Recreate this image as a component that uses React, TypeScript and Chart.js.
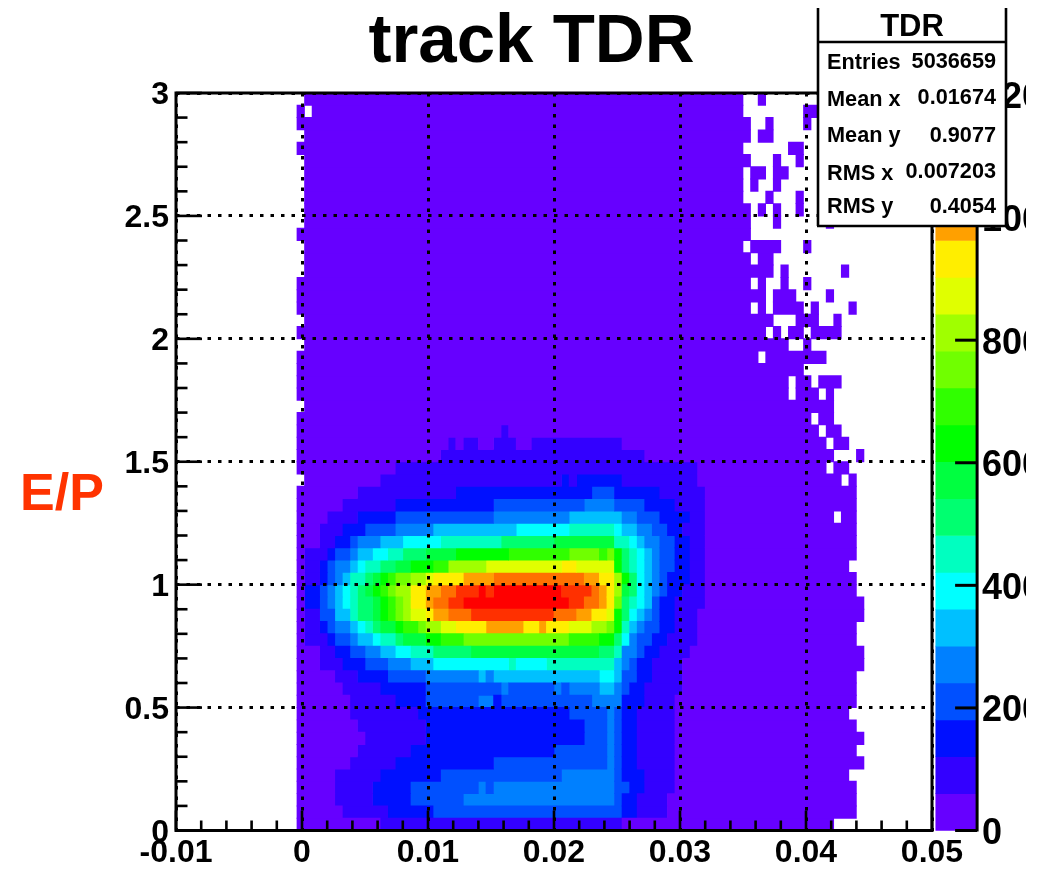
import React, { useEffect, useRef } from "react";
import { Chart, registerables } from "chart.js";

Chart.register(...registerables);

// Each row is one E/P bin (bottom to top): "<first x bin><contour letter>", "." = empty.
const rowsLow: string[] = [
  "16a27b59a87.",
  "16a22b28c34d59c61b65a90.",
  "16a21b26c31d38e58d59c61b65a90.",
  "16a21b26c31d40e41d42e58d60c62b66a90.",
  "16a21b27c35d51e58d59c62b66a89.",
  "16a23b29c42d57e58d59c61b66a91.",
  "16a24b31c50d57e58d59c61b66a90.",
  "16a25b33c54d57e58d59c61b66a91.",
  "16a24b33c54d57e58d59c61b66a90.",
  "16a23b32c52d57e58d59c61b66a89.",
  "16a23b29c33d40e42c43d55e59c62b66a90.",
  "16a22b27c33d43e44d50e51d52e56f58e59d60c62b67a90.",
  "16a21b24c28d33e40f41e42f56g58f59d61c63b67a90.",
  "16a19b22c25d28e31f34g44h45g49h58f59e60d61c63b67a91.",
  "16a19b21c23d25e27f29g31h34i39j56i58h59e61d62c64b68a91.",
  "16a17b20c21d23e24f26g27h29i30j33k35l38m52l56k58i59g60e61d63c65b69a90.",
  "16a17b19c20d21e23f24g25h26i27j29k30l32m33n35o37p41q46p48q49p52o55n57m58k59h60f61e62d64c66b69a90.",
  "16a17b19d21f23h24i26j27k28l29m30n31o33p34q36r39s50r53q55p57o58k59i60g61f62e63d64c66b69a91.",
  "16a17c19d20e21f22g23h24i26j27k28l29m30n31p33q34r36s38t52s54r56q57p58m59i60h61g62f63d64c66b70a91.",
  "16a17c19d20e21f22g23h24i25j26k27l28m29n31p33q35r37s40t41s42t51s55r56q57p58n59j60i61g62f63e64d65c67b70a90.",
];
const rowsMid: string[] = [
  "16a17b19c20d21e22f23h25i26j27k28l29m31n33o34p38q42r54q56p58n59k60i61g62f63e64d65c68b70a90.",
  "16a17b19c20d21e23f24g25h27i29j31k34l36n41o51p53o58k59i60h61g62f63e64d66c68b70a89.",
  "16a17b20c21d23e24f26g28h30i33j37k44l52m56l57m58k59i60h61g62f63e64d66c68b70a90.",
  "16a19b21c23d24e27f30g35h43i50j58h60g61f62e64d66c68b70a90.",
  "16a19b22c25d29e34f45g52h58g59f61e63d65c67b70a90.",
  "16a20b24c29d42e52f59e61d64c68b70a87.88a90.",
  "16a22b29c42d54e58d62c66b70a90.",
  "16a24b37c55d58c64b70a90.",
  "17a27b51c52b53c59b69a88.89a90.",
  "16a29b69a86.87a89.",
  "16a35b62a87.90a91.",
  "16a36b37a38b40a42b45a47b59a86.87a89.",
  "16a43b44a85.86a88.",
  "16a84.85a87.",
  "17a87.",
  "16a81.82a85.86a87.",
  "16a81.82a84.85a88.",
  "16a83.",
  "16a77.78a86.",
  "17a81.83a84.",
];
const rowsHigh: string[] = [
  "16a78.79a80.81a83.84a88.",
  "17a79.82a85.87a88.",
  "16a76.77a78.79a83.84a85.89a90.",
  "16a78.79a82.86a87.",
  "16a76.77a78.80a81.83a84.",
  "17a79.80a81.88a89.",
  "17a76.77a79.",
  "17a75.76a80.83a84.",
  "16a76.",
  "17a76.79a80.86a87.",
  "17a76.77a78.79a80.82a83.",
  "17a75.78a79.82a83.",
  "17a75.76a77.79a80.",
  "17a75.76a78.79a81.",
  "17a76.79a80.82a83.",
  "16a75.81a83.",
  "17a76.77a79.",
  "16a76.78a79.83a84.",
  "16a17.18a75.83a85.",
  "17a75.77a78.",
];

const contourColors: string[] = [
  "#6600ff", "#3300ff", "#0010ff", "#0050ff", "#0080ff",
  "#00c0ff", "#00ffff", "#00ffc0", "#00ff70", "#00ff40",
  "#00ff00", "#30ff00", "#70ff00", "#a0ff00", "#e0ff00",
  "#ffee00", "#ffa000", "#ff7000", "#ff3000", "#ff0000",
];

const xTicks: number[] = [-0.01, 0, 0.01, 0.02, 0.03, 0.04, 0.05];
const yTicks: number[] = [0, 0.5, 1, 1.5, 2, 2.5, 3];
const zTicks: number[] = [0, 2000, 4000, 6000, 8000, 10000, 12000];
const statNames: string[] = ["Entries", "Mean x", "Mean y", "RMS x", "RMS y"];
const statValues: string[] = ["5036659", "0.01674", "0.9077", "0.007203", "0.4054"];

const X_MIN = -0.01, X_MAX = 0.05, X_BIN = 0.0006;
const Y_MAX = 3, Y_BIN = 0.05;
const Z_MAX = 12033;
const FONT = "'Liberation Sans', Arial, sans-serif";

type Run = { x: [number, number]; y: number };

function buildRuns(): Run[][] {
  const byLevel: Run[][] = contourColors.map(() => []);
  [...rowsLow, ...rowsMid, ...rowsHigh].forEach((row, r) => {
    const tokens = [...row.matchAll(/(\d+)([a-t.])/g)];
    tokens.forEach((t, i) => {
      if (t[2] === "." || i + 1 >= tokens.length) return;
      const from = Number(t[1]);
      const to = Number(tokens[i + 1][1]);
      byLevel[t[2].charCodeAt(0) - 97].push({
        x: [X_MIN + from * X_BIN, X_MIN + to * X_BIN],
        y: (r + 0.5) * Y_BIN,
      });
    });
  });
  return byLevel;
}

const rootFrame = {
  id: "rootFrame",
  afterDraw(chart: any) {
    const { ctx, chartArea: a, scales } = chart;
    const { x, y, z } = scales;
    ctx.save();
    // the page cuts the palette labels off here
    ctx.fillStyle = "#fff";
    ctx.fillRect(1026, 0, 21, 870);
    ctx.strokeStyle = "#000";
    ctx.lineWidth = 2.6;
    const seg = (x0: number, y0: number, x1: number, y1: number) => {
      ctx.beginPath();
      ctx.moveTo(x0, y0);
      ctx.lineTo(x1, y1);
      ctx.stroke();
    };
    // minor and major ticks, pointing into the frame
    for (let i = 0; i <= 30; i++) {
      const px = x.getPixelForValue(X_MIN + i * 0.002);
      seg(px, a.bottom, px, a.bottom - (i % 5 === 0 ? 20 : 10));
      const py = y.getPixelForValue(i * 0.1);
      seg(a.left, py, a.left + (i % 5 === 0 ? 26 : 11.5), py);
    }
    ctx.lineWidth = 3;
    ctx.strokeRect(a.left, a.top, a.right - a.left, a.bottom - a.top);

    // palette axis
    const zRight = x.getPixelForValue(0.05358);
    seg(zRight, a.top, zRight, a.bottom + 1);
    zTicks.forEach((v) => {
      const py = z.getPixelForValue(v);
      seg(zRight, py, zRight - 22, py);
    });

    // E/P
    ctx.fillStyle = "#ff3300";
    ctx.font = `bold 52px ${FONT}`;
    ctx.textAlign = "left";
    ctx.textBaseline = "alphabetic";
    ctx.fillText("E/P", 20, 510);

    // stats box
    const L = 818, R = 1006, T = 8, H = 42, B = 226;
    ctx.fillStyle = "#fff";
    ctx.fillRect(L, T, R - L, B - T);
    ctx.strokeStyle = "#000";
    ctx.lineWidth = 2.6;
    seg(L, T, L, B);
    seg(R, T, R, B);
    seg(L - 1, B, R + 1, B);
    seg(L, H, R, H);
    ctx.fillStyle = "#000";
    ctx.font = `bold 31px ${FONT}`;
    ctx.textAlign = "center";
    ctx.fillText("TDR", (L + R) / 2, 36);
    const nameY = [69, 105.5, 141.5, 180, 213];
    const valueY = [68, 104, 141.5, 178, 213];
    ctx.font = `bold 21.7px ${FONT}`;
    statNames.forEach((s, i) => {
      ctx.textAlign = "left";
      ctx.fillText(s, 827, nameY[i]);
      ctx.textAlign = "right";
      ctx.fillText(statValues[i], 996, valueY[i]);
    });
    ctx.restore();
  },
};

export default function App() {
  const ref = useRef<HTMLCanvasElement>(null);
  useEffect(() => {
    const runs = buildRuns();
    const zStep = Z_MAX / contourColors.length;
    const tickFont = { family: FONT, weight: "bold" as const, size: 32 };
    const dots = { dash: [3.5, 7], display: false };
    const chart = new Chart(ref.current as HTMLCanvasElement, {
      type: "bar",
      plugins: [rootFrame],
      data: {
        datasets: [
          ...runs.map((data, i) => ({
            label: "level " + i,
            data: data as any,
            backgroundColor: contourColors[i],
            borderWidth: 0,
            grouped: false,
            barThickness: 12.6,
            xAxisID: "x",
            yAxisID: "y",
          })),
          {
            label: "palette",
            data: contourColors.map((_, i) => ({
              x: [0.0503, 0.05358],
              y: (i + 0.5) * zStep,
            })) as any,
            backgroundColor: contourColors,
            borderWidth: 0,
            grouped: false,
            barThickness: 36.85,
            clip: false as any,
            xAxisID: "x",
            yAxisID: "z",
          },
        ],
      },
      options: {
        indexAxis: "y",
        responsive: false,
        animation: false,
        events: [],
        layout: { padding: { left: 16, right: 0, top: 0, bottom: 0 } },
        plugins: {
          legend: { display: false },
          tooltip: { enabled: false },
          title: {
            display: true,
            text: "track TDR",
            color: "#000",
            font: { family: FONT, weight: "bold", size: 69, lineHeight: 1 },
            padding: { top: 8, bottom: 16 },
          },
        },
        scales: {
          x: {
            type: "linear",
            position: "bottom",
            min: X_MIN,
            max: X_MAX,
            offset: false,
            afterBuildTicks: (s: any) => {
              s.ticks = xTicks.map((value) => ({ value }));
            },
            afterFit: (s: any) => {
              s.height = 39.5;
            },
            grid: { z: 1, color: "#000", lineWidth: 3, drawTicks: false, offset: false },
            border: dots,
            ticks: {
              color: "#000",
              font: tickFont,
              padding: 3,
              autoSkip: false,
              maxRotation: 0,
              callback: (v: any) => String(Number(Number(v).toFixed(2))),
            },
          },
          y: {
            type: "linear",
            position: "left",
            min: 0,
            max: Y_MAX,
            offset: false,
            afterBuildTicks: (s: any) => {
              s.ticks = yTicks.map((value) => ({ value }));
            },
            afterFit: (s: any) => {
              s.width = 160;
              s.paddingTop = 0;
              s.paddingBottom = 0;
            },
            grid: { z: 1, color: "#000", lineWidth: 3, drawTicks: false, offset: false },
            border: dots,
            ticks: {
              color: "#000",
              font: tickFont,
              padding: 7,
              labelOffset: 2.5,
              autoSkip: false,
              callback: (v: any) => String(v),
            },
          },
          z: {
            type: "linear",
            position: "right",
            min: 0,
            max: Z_MAX,
            offset: false,
            afterBuildTicks: (s: any) => {
              s.ticks = zTicks.map((value) => ({ value }));
            },
            afterFit: (s: any) => {
              s.width = 115;
              s.paddingTop = 0;
              s.paddingBottom = 0;
            },
            grid: { display: false, drawTicks: false, offset: false },
            border: { display: false },
            ticks: {
              color: "#000",
              font: { ...tickFont, size: 36 },
              padding: 50,
              labelOffset: 3.5,
              autoSkip: false,
              callback: (v: any) => String(v),
            },
          },
        },
      } as any,
    });
    return () => chart.destroy();
  }, []);
  return (
    <canvas
      ref={ref}
      width={1047}
      height={870}
      style={{ position: "absolute", left: 0, top: 0, display: "block", background: "#fff" }}
    />
  );
}
